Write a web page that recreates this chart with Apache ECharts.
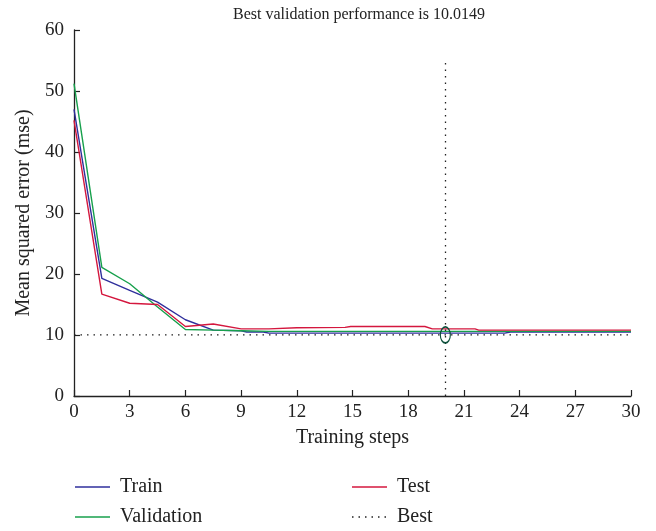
<!DOCTYPE html>
<html>
<head>
<meta charset="utf-8">
<script src="https://cdn.jsdelivr.net/npm/echarts@6/dist/echarts.min.js"></script>
<style>
  html, body { margin: 0; padding: 0; background: #fff; }
  #chart { width: 656px; height: 531px; }
</style>
</head>
<body>
<div id="chart"></div>
<script>
// Training record: mean squared error per training step
const trainSteps = [0, 1.5, 3, 4.5, 6, 7.5, 9, 9.3, 10.2, 10.5, 23.2, 23.5, 30];
const trainMse   = [47.0, 19.3, 17.3, 15.4, 12.5, 10.8, 10.7, 10.5, 10.5, 10.3, 10.3, 10.5, 10.5];

const validationSteps = [0, 1.5, 3, 4.5, 6, 7.5, 9, 10.5, 30];
const validationMse   = [51.2, 21.1, 18.4, 14.6, 10.9, 10.8, 10.7, 10.6, 10.6];

const testSteps = [0, 1.5, 3, 4.5, 6, 7.5, 9, 10.5, 12, 14.6, 14.9, 18.9, 19.3, 21.6, 21.8, 30];
const testMse   = [45.2, 16.7, 15.2, 15.0, 11.4, 11.8, 11.0, 11.0, 11.2, 11.25, 11.4, 11.4, 11.0, 11.0, 10.8, 10.8];

const bestStep = 20;
const bestValue = 10.0149;
const bestLineTop = 55;

const xTicks = { min: 0, max: 30, interval: 3 };
const yTicks = { min: 0, max: 60, interval: 10 };

const legendNames = ['Train', 'Test', 'Validation', 'Best'];

const pairs = (xs, ys) => xs.map((x, i) => [x, ys[i]]);

const FONT = '"Liberation Serif", "DejaVu Serif", serif';
const TXT = '#222';
const COLORS = { Train: '#2f2f9c', Validation: '#17a04c', Test: '#d4173e', Best: '#222' };
const DOTTED = [1.5, 5];

const chart = echarts.init(document.getElementById('chart'), null, { renderer: 'canvas' });

const axisLine = { show: true, onZero: false, lineStyle: { color: '#222', width: 1.3 } };
const axisTick = { show: true, inside: true, length: 6, lineStyle: { color: '#222', width: 1.2 } };
const tickLabelStyle = { color: TXT, fontFamily: FONT, fontSize: 19 };
const nameStyle = { color: TXT, fontFamily: FONT, fontSize: 20 };

// Legend drawn as a two-column key under the plot
const legendSlots = {
  Train:      { x: 75,  y: 487 },
  Test:       { x: 352, y: 487 },
  Validation: { x: 75,  y: 517 },
  Best:       { x: 352, y: 517 }
};
const legendGraphics = [];
legendNames.forEach(name => {
  const s = legendSlots[name];
  legendGraphics.push({
    type: 'line',
    shape: { x1: s.x, y1: s.y, x2: s.x + 35, y2: s.y },
    style: {
      stroke: COLORS[name], lineWidth: 1.4,
      lineDash: name === 'Best' ? DOTTED : null
    }
  });
  legendGraphics.push({
    type: 'text', x: s.x + 45, y: s.y,
    style: { text: name, fill: TXT, font: '20px ' + FONT, verticalAlign: 'middle' }
  });
});

chart.setOption({
  animation: false,
  backgroundColor: '#fff',
  title: {
    text: 'Best validation performance is ' + bestValue,
    left: 354, top: 2, textAlign: 'center',
    textStyle: { color: TXT, fontFamily: FONT, fontSize: 16, fontWeight: 'normal' }
  },
  grid: { left: 74, right: 25, top: 30, bottom: 135, containLabel: false },
  xAxis: {
    type: 'value', min: xTicks.min, max: xTicks.max, interval: xTicks.interval,
    name: 'Training steps', nameLocation: 'middle', nameGap: 32,
    nameTextStyle: nameStyle,
    axisLine: axisLine, axisTick: axisTick, splitLine: { show: false },
    axisLabel: Object.assign({ margin: 7 }, tickLabelStyle)
  },
  yAxis: {
    type: 'value', min: yTicks.min, max: yTicks.max, interval: yTicks.interval,
    name: 'Mean squared error (mse)', nameLocation: 'middle', nameGap: 38,
    nameTextStyle: nameStyle,
    axisLine: axisLine, axisTick: axisTick, splitLine: { show: false },
    axisLabel: Object.assign({ margin: 10 }, tickLabelStyle)
  },
  graphic: legendGraphics,
  series: [
    {
      name: 'Train', type: 'line', symbol: 'none',
      data: pairs(trainSteps, trainMse),
      lineStyle: { color: COLORS.Train, width: 1.4 }
    },
    {
      name: 'Validation', type: 'line', symbol: 'none',
      data: pairs(validationSteps, validationMse),
      lineStyle: { color: COLORS.Validation, width: 1.4 }
    },
    {
      name: 'Test', type: 'line', symbol: 'none',
      data: pairs(testSteps, testMse),
      lineStyle: { color: COLORS.Test, width: 1.4 }
    },
    {
      name: 'Best', type: 'line', symbol: 'none',
      data: [[xTicks.min, bestValue], [xTicks.max, bestValue]],
      lineStyle: { color: COLORS.Best, width: 1.3, type: DOTTED },
      markLine: {
        silent: true, symbol: 'none', label: { show: false },
        lineStyle: { color: COLORS.Best, width: 1.3, type: DOTTED },
        data: [[{ coord: [bestStep, 0] }, { coord: [bestStep, bestLineTop] }]]
      }
    },
    {
      name: 'best point', type: 'scatter',
      data: [[bestStep, bestValue]],
      symbol: 'circle', symbolSize: [10, 16],
      itemStyle: { color: 'rgba(0,0,0,0)', borderColor: '#0b4f3a', borderWidth: 1.4, opacity: 1 },
      z: 5
    }
  ]
});
</script>
</body>
</html>
